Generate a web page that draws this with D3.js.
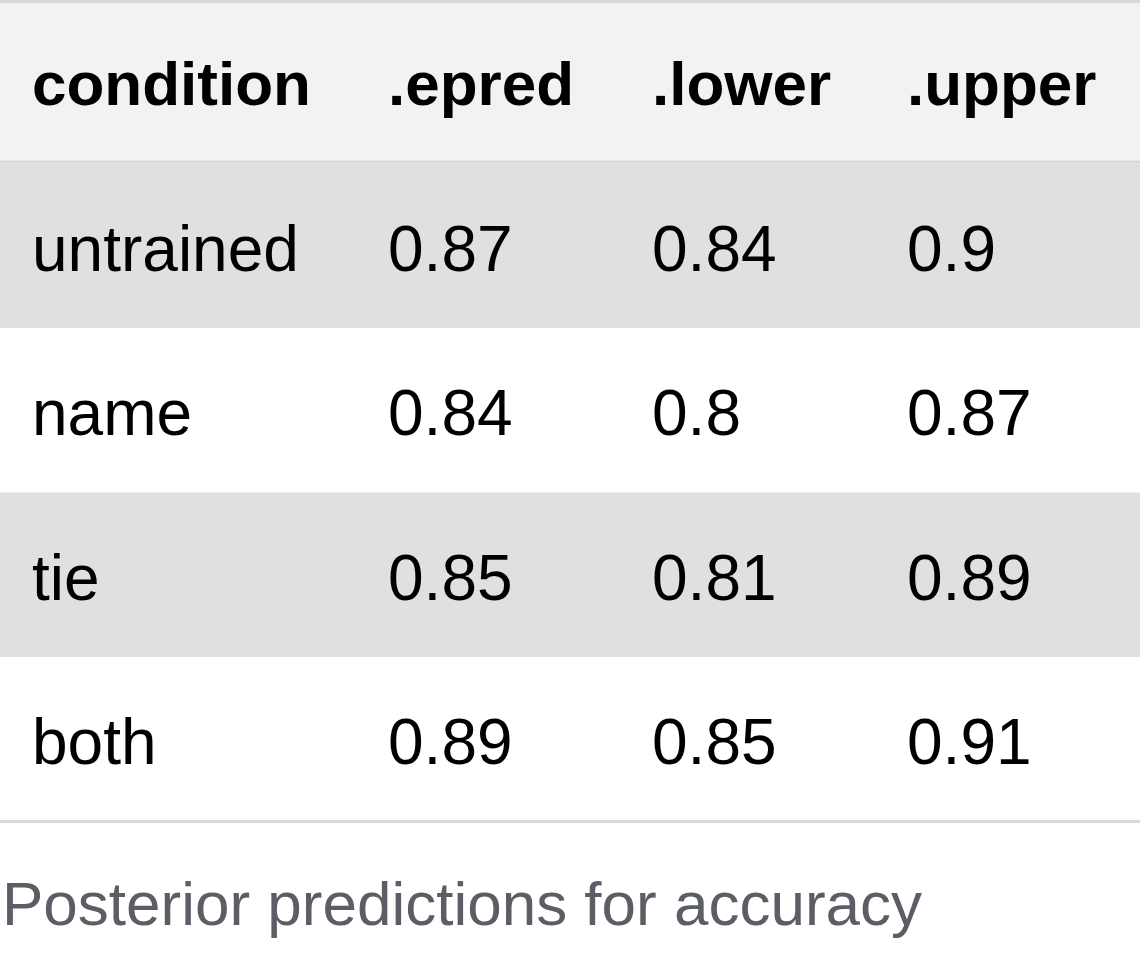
<!DOCTYPE html>
<html><head><meta charset="utf-8">
<script src="https://cdn.jsdelivr.net/npm/d3@7"></script>
<style>body{margin:0;background:#fff;} text{font-family:"Liberation Sans",Arial,sans-serif;}</style>
</head><body>
<script>
var columns = ["condition", ".epred", ".lower", ".upper"];
var conditions = ["untrained", "name", "tie", "both"];
var epred = ["0.87", "0.84", "0.85", "0.89"];
var lower = ["0.84", "0.8", "0.81", "0.85"];
var upper = ["0.9", "0.87", "0.89", "0.91"];
var caption = "Posterior predictions for accuracy";

var rows = conditions.map(function(c,i){ return [c, epred[i], lower[i], upper[i]]; });

var width = 1140, height = 980;
var headH = 162, rowH = 164.5;
var colX = [32, 388, 652, 907];

var svg = d3.select("body").append("svg").attr("width",width).attr("height",height);

svg.append("rect").attr("x",0).attr("y",0).attr("width",width).attr("height",headH).attr("fill","#f2f2f2");
svg.append("line").attr("x1",0).attr("x2",width).attr("y1",1.5).attr("y2",1.5).attr("stroke","#d5d9de").attr("stroke-width",3);
svg.append("line").attr("x1",0).attr("x2",width).attr("y1",headH).attr("y2",headH).attr("stroke","#d5d9de").attr("stroke-width",3);

svg.selectAll("text.head").data(columns).enter().append("text")
  .attr("class","head").attr("x",function(d,i){return colX[i];}).attr("y",105)
  .attr("font-size",62).attr("font-weight","bold").attr("fill","#000").text(function(d){return d;});

var rowG = svg.selectAll("g.row").data(rows).enter().append("g")
  .attr("transform",function(d,i){ return "translate(0,"+(headH+1.5+i*rowH)+")"; });
rowG.append("rect").attr("width",width).attr("height",rowH)
  .attr("fill",function(d,i){ return i%2==0 ? "#e0e0e0" : "#fff"; });
rowG.selectAll("text").data(function(d){return d;}).enter().append("text")
  .attr("x",function(d,i){return colX[i];}).attr("y",107)
  .attr("font-size",64).attr("fill","#000").text(function(d){return d;});

var bottom = headH+1.5+rows.length*rowH;
svg.append("line").attr("x1",0).attr("x2",width).attr("y1",bottom).attr("y2",bottom).attr("stroke","#d5d9de").attr("stroke-width",3);

svg.append("text").attr("x",2).attr("y",925).attr("font-size",62).attr("fill","#5b5e64").text(caption);
</script>
</body></html>
